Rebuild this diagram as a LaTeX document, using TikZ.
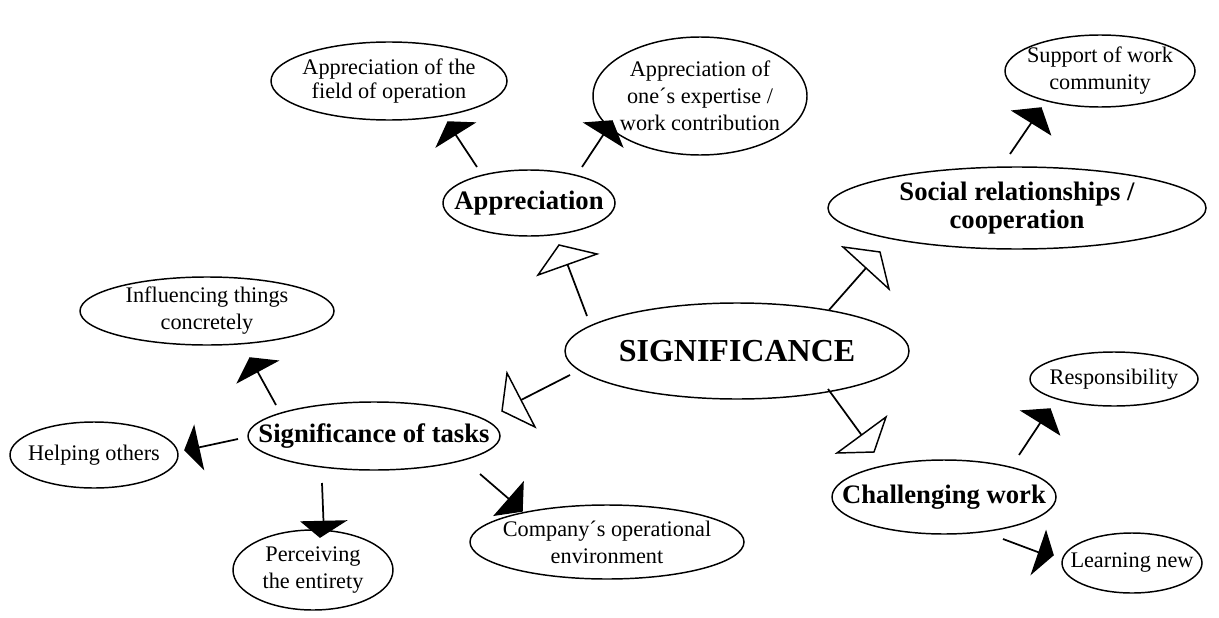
\documentclass[tikz,border=0pt]{standalone}
\usepackage{fontspec}
\setmainfont{Liberation Serif}
\usetikzlibrary{shapes.geometric,calc}
\tikzset{
  ell/.style 2 args={draw, line width=1.1pt, ellipse, inner sep=0pt,
    minimum width=#1*1.5pt, minimum height=#2*1.5pt},
  txt/.style={inner sep=0pt, align=center, font=\fontsize{16.7}{20.3}\selectfont},
  btxt/.style={inner sep=0pt, align=center, font=\fontsize{20}{21}\selectfont\bfseries},
  conn/.style={line width=1.3pt},
  headb/.style={line width=1.1pt, fill=black, line join=miter},
  headw/.style={line width=1.1pt, fill=white, line join=miter},
}
\newcommand\hd[6]{% style, start, base1, base2, apex, name
  \coordinate (#6s) at #2;
  \coordinate (#6a) at #3;
  \coordinate (#6b) at #4;
  \coordinate (#6t) at #5;
  \coordinate (#6m) at ($(#6a)!0.5!(#6b)$);
  \draw[conn] (#6s) -- (#6m);
  \draw[#1] (#6a) -- (#6b) -- (#6t) -- cycle;
}
\begin{document}
\begin{tikzpicture}[x=0.75pt,y=-0.75pt]
\useasboundingbox (0,0) rectangle (1219,617);
% ellipses (radii in px)
\node[ell={118}{39}] (fieldop) at (389,81) {};
\node[ell={107}{59}] (expert) at (700,96) {};
\node[ell={95}{36}] (support) at (1100,71) {};
\node[ell={86}{33}] (appr) at (529,203) {};
\node[ell={189}{41}] (social) at (1017,208) {};
\node[ell={127}{34}] (influ) at (207,311) {};
\node[ell={172}{48}] (sig) at (737,351) {};
\node[ell={84}{27}] (resp) at (1114,379) {};
\node[ell={84}{33}] (help) at (94,455) {};
\node[ell={126}{34}] (tasks) at (374,436) {};
\node[ell={112}{37}] (chall) at (944,497) {};
\node[ell={80}{40}] (perc) at (313,570) {};
\node[ell={137}{37}] (comp) at (607,542) {};
\node[ell={70}{30}] (learn) at (1132,563) {};
% texts
\node[txt, font=\fontsize{16.7}{18}\selectfont] (fieldopT) at (fieldop) {Appreciation of the\\field of operation};
\node[txt] (expertT) at (expert) {Appreciation of\\one´s expertise /\\work contribution};
\node[txt] (supportT) at (support) {Support of work\\community};
\node[btxt] (apprT) at (appr) {Appreciation};
\node[btxt] (socialT) at (social) {Social relationships /\\cooperation};
\node[txt] (influT) at (influ) {Influencing things\\concretely};
\node[txt, font=\fontsize{24}{26}\selectfont\bfseries] (sigT) at (sig) {SIGNIFICANCE};
\node[txt] (respT) at (resp) {Responsibility};
\node[txt] (helpT) at (help) {Helping others};
\node[btxt] (tasksT) at (tasks) {Significance of tasks};
\node[btxt] (challT) at (chall) {Challenging work};
\node[txt] (percT) at (perc) {Perceiving\\the entirety};
\node[txt] (compT) at (comp) {Company´s operational\\environment};
\node[txt] (learnT) at (learn) {Learning new};
% connectors
\hd{headb}{(477,167)}{(437,146)}{(474,123)}{(448,122)}{aone}
\hd{headb}{(582,167)}{(585,123)}{(622,146)}{(612,121)}{atwo}
\hd{headw}{(587,316)}{(538,275)}{(597,254)}{(559,245)}{sone}
\hd{headw}{(829,310)}{(843,247)}{(889,289)}{(880,252)}{stwo}
\hd{headw}{(828,389)}{(837,453)}{(886,417)}{(874,452)}{sthree}
\hd{headw}{(570,375)}{(507,373)}{(535,427)}{(502,411)}{sfour}
\hd{headb}{(276,405)}{(238,382)}{(277,361)}{(250,358)}{tone}
\hd{headb}{(238,439)}{(194,427)}{(203,468)}{(185,450)}{ttwo}
\hd{headb}{(322,483)}{(302,522)}{(345,521)}{(320,537)}{tthree}
\hd{headb}{(480,474)}{(495,515)}{(523,483)}{(522,511)}{tfour}
\hd{headb}{(1010,154)}{(1013,111)}{(1050,134)}{(1041,108)}{cone}
\hd{headb}{(1019,455)}{(1022,411)}{(1059,434)}{(1050,409)}{wone}
\hd{headb}{(1003,539)}{(1046,532)}{(1032,573)}{(1053,555)}{wtwo}
\end{tikzpicture}
\end{document}
